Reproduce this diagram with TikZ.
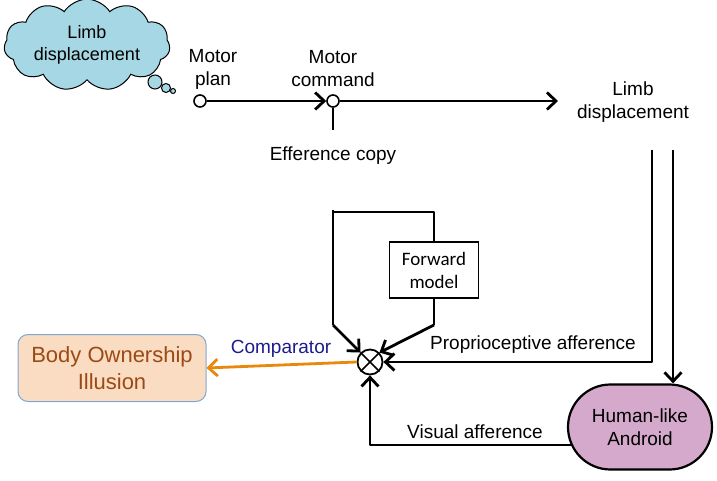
\documentclass[tikz,border=0pt]{standalone}
\usepackage{fontspec}
\setmainfont{Liberation Sans}
\newfontfamily\calib{Carlito}
\usetikzlibrary{arrows.meta,shapes.symbols,shapes.misc}
\definecolor{cloudblue}{HTML}{A6D7E4}
\definecolor{androidpink}{HTML}{D5A9CB}
\definecolor{bodyfill}{HTML}{FADCC2}
\definecolor{bodyedge}{HTML}{7FA7D2}
\definecolor{bodytext}{HTML}{9C4A14}
\definecolor{arrorange}{HTML}{E8890C}
\definecolor{compblue}{HTML}{1C1C8C}
\begin{document}
\begin{tikzpicture}[x=1pt,y=-1pt,
  every node/.style={font=\fontsize{19}{23}\selectfont, align=center, inner sep=0pt},
  wire/.style={line width=2.8pt, line join=round},
  tipstyle/.style={-{Straight Barb[length=9pt,width=17pt,line width=2.8pt]}},
  arr/.style={wire, tipstyle},
  junc/.style={circle, draw, line width=1.6pt, fill=white, minimum size=12pt}]
\useasboundingbox (0,0) rectangle (717,481);
% cloud
\node[cloud, cloud puffs=11, cloud puff arc=115, aspect=2.1, draw, line width=1pt, fill=cloudblue,
  minimum width=166pt, minimum height=84pt, font=\fontsize{18}{22}\selectfont] (cloud) at (87,45) {Limb\\displacement};
\node[circle, draw, line width=1pt, fill=cloudblue, minimum size=14pt] (b1) at (155,82) {};
\node[circle, draw, line width=1pt, fill=cloudblue, minimum size=9pt] (b2) at (166,88) {};
\node[circle, draw, line width=1pt, fill=cloudblue, minimum size=5pt] (b3) at (173,91) {};
% top row
\node[junc] (plan) at (200,101) {};
\node (plantxt) at (213,69) {Motor\\plan};
\node[junc] (cmd) at (333,101) {};
\node (cmdtxt) at (333,69) {Motor\\command};
\coordinate (limbend) at (558,101);
\node (limbtxt) at (633,102) {Limb\\displacement};
\draw[arr] (plan) -- (cmd);
\draw[arr] (cmd) -- (limbend);
% efference copy
\node (eff) at (333,156) {Efference copy};
\coordinate (effstop) at (333,130);
\draw[wire] (cmd) -- (effstop);
% comparator
\node[circle, draw, line width=1.8pt, minimum size=25pt, fill=white] (comp) at (370,362) {};
\draw[line width=1.6pt] (comp.north west) -- (comp.south east) (comp.north east) -- (comp.south west);
% forward model
\node[draw, line width=1.6pt, minimum width=89pt, minimum height=56pt, font=\calib\fontsize{19}{23}\selectfont] (fwd) at (434,270) {Forward\\model};
\coordinate (effstart) at (333,210);
\coordinate (b0) at (333,212);
\coordinate (ld) at (333,325);
\coordinate (rd) at (434,325);
\draw[wire] (effstart) -- (ld);
\draw[arr] (ld) -- (comp.north west);
\draw[wire] (b0) -- (434,212) -- (fwd.north);
\draw[wire] (fwd.south) -- (rd);
\draw[arr] (rd) -- (comp.north east);
% android
\node[rounded rectangle, draw, line width=2.2pt, fill=androidpink, minimum width=144pt, minimum height=85pt] (andr) at (640,427) {Human-like\\Android};
% proprioceptive
\coordinate (p0) at (652,150);
\coordinate (q0) at (673,150);
\draw[arr] (p0) -- (652,362) -- (comp.east);
\node (prop) at (533,345) {Proprioceptive afference};
\draw[arr] (q0) -- (q0 |- andr.north);
% visual
\coordinate (vs) at (573,445);
\draw[arr] (vs) -- (370,445) -- (comp.south);
\node (vis) at (475,432) {Visual afference};
% body ownership
\node[rounded corners=10pt, draw=bodyedge, line width=1pt, fill=bodyfill, minimum width=188pt, minimum height=67pt,
  text=bodytext, font=\fontsize{22}{27}\selectfont] (body) at (112,368) {Body Ownership\\Illusion};
\draw[line width=2.8pt, arrorange, tipstyle] (comp.west) -- (body.east);
\node[text=compblue] (comptxt) at (281,349) {Comparator};
\end{tikzpicture}
\end{document}
